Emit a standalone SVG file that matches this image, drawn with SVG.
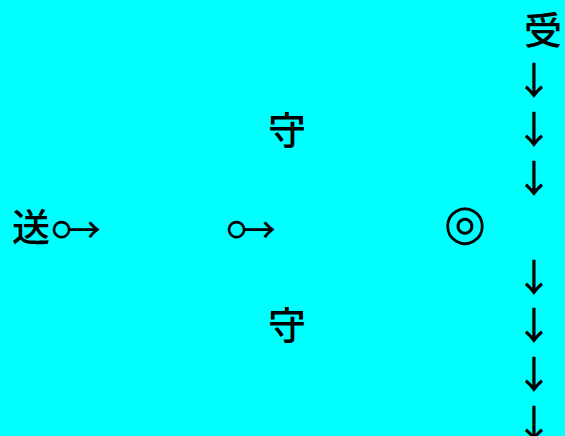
<svg xmlns="http://www.w3.org/2000/svg" width="565" height="436" viewBox="0 0 565 436">
<style>
.cjk{font-family:"Noto Sans CJK JP","Noto Sans CJK SC",sans-serif;font-size:38px;font-weight:500;fill:#000;text-anchor:middle}
.ring{font-family:Lato,"Noto Sans CJK JP",sans-serif;font-size:32px;fill:#000}
.to{font-family:"Noto Sans CJK JP","Noto Sans CJK SC",sans-serif;font-size:34px;font-weight:500;fill:#000}
.tgt{font-family:"DejaVu Sans",sans-serif;font-size:49px;fill:#000;text-anchor:middle}
</style>
<rect width="565" height="436" fill="#00FFFF"/>
<g id="send"><text class="cjk" x="31" y="241">送</text></g>
<g id="recv"><text class="cjk" x="543" y="44">受</text></g>
<g id="guard-top"><text class="cjk" x="287" y="144">守</text></g>
<g id="guard-bottom"><text class="cjk" x="287" y="339">守</text></g>
<g id="target"><text class="tgt" x="465" y="239">◎</text></g>
<g id="connectors">
<text class="ring" x="51" y="240">○</text><text class="to" x="67" y="243">→</text>
<text class="ring" x="226" y="240">○</text><text class="to" x="242" y="243">→</text>
<text class="cjk" x="534" y="94">↓</text>
<text class="cjk" x="534" y="143">↓</text>
<text class="cjk" x="534" y="192">↓</text>
<text class="cjk" x="534" y="291">↓</text>
<text class="cjk" x="534" y="339">↓</text>
<text class="cjk" x="534" y="388">↓</text>
<text class="cjk" x="534" y="437">↓</text>
</g>
</svg>
